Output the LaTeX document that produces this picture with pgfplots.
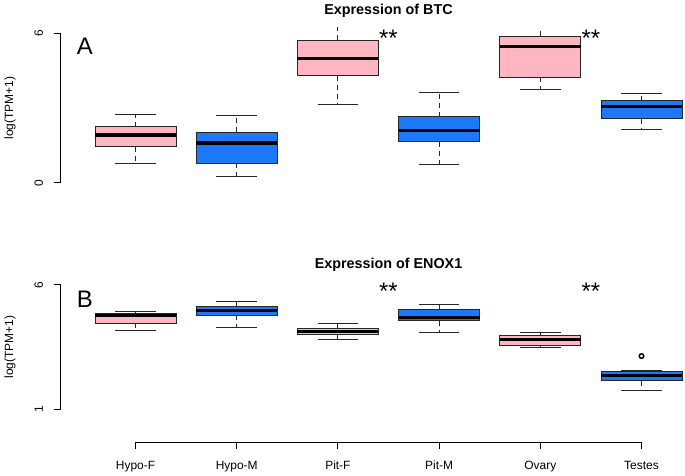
\documentclass[border=0pt]{standalone}
\usepackage{pgfplots}
\pgfplotsset{compat=1.18}
\usepgfplotslibrary{statistics}
\usepackage{fontspec}
\setmainfont{Liberation Sans}

\definecolor{pinkc}{RGB}{255,182,193}
\definecolor{bluec}{RGB}{30,120,250}

\pgfplotsset{
  rbox/.style={
    boxplot/draw direction=y,
    boxplot/box extend=0.8,
    boxplot/whisker extend=0.4,
    boxplot/every box/.style={draw=black!85, line width=0.9bp},
    boxplot/every whisker/.style={draw=black!85, line width=0.9bp},
    boxplot/every median/.style={draw=black, line width=3.2bp},
    boxplot/draw/lower whisker/.code={%
      \draw[/pgfplots/boxplot/every whisker/.try, dash pattern=on 5bp off 4bp]
        (boxplot box cs:\pgfplotsboxplotvalue{lower quartile},0.5) --
        (boxplot box cs:\pgfplotsboxplotvalue{lower whisker},0.5);
      \draw[/pgfplots/boxplot/every whisker/.try]
        (boxplot whisker cs:\pgfplotsboxplotvalue{lower whisker},0) --
        (boxplot whisker cs:\pgfplotsboxplotvalue{lower whisker},1);
    },
    boxplot/draw/upper whisker/.code={%
      \draw[/pgfplots/boxplot/every whisker/.try, dash pattern=on 5bp off 4bp]
        (boxplot box cs:\pgfplotsboxplotvalue{upper quartile},0.5) --
        (boxplot box cs:\pgfplotsboxplotvalue{upper whisker},0.5);
      \draw[/pgfplots/boxplot/every whisker/.try]
        (boxplot whisker cs:\pgfplotsboxplotvalue{upper whisker},0) --
        (boxplot whisker cs:\pgfplotsboxplotvalue{upper whisker},1);
    },
  },
  pinkbox/.style={rbox, boxplot/every box/.append style={fill=pinkc}},
  bluebox/.style={rbox, boxplot/every box/.append style={fill=bluec}},
  panel/.style={
    scale only axis, width=655.78bp, anchor=south west,
    xmin=-0.74, xmax=5.74, axis lines=none, xtick=\empty, ytick=\empty,
    clip mode=individual,
  },
}

\begin{document}
\begin{tikzpicture}
\path[use as bounding box] (0,0) rectangle (685bp,476bp);

% ---------------- Panel A: BTC ----------------
\begin{axis}[panel, height=161.1bp, at={(60.61bp,287.33bp)}, ymin=-0.24, ymax=6.24]
\addplot[pinkbox, boxplot prepared={draw position=0, lower whisker=0.79, lower quartile=1.45, median=1.92, upper quartile=2.26, upper whisker=2.74}] coordinates {};
\addplot[bluebox, boxplot prepared={draw position=1, lower whisker=0.24, lower quartile=0.78, median=1.60, upper quartile=2.03, upper whisker=2.69}] coordinates {};
\addplot[pinkbox, boxplot prepared={draw position=2, lower whisker=3.13, lower quartile=4.30, median=4.98, upper quartile=5.72, upper whisker=6.60}] coordinates {};
\addplot[bluebox, boxplot prepared={draw position=3, lower whisker=0.74, lower quartile=1.64, median=2.11, upper quartile=2.66, upper whisker=3.64}] coordinates {};
\addplot[pinkbox, boxplot prepared={draw position=4, lower whisker=3.77, lower quartile=4.24, median=5.49, upper quartile=5.89, upper whisker=6.40}] coordinates {};
\addplot[bluebox, boxplot prepared={draw position=5, lower whisker=2.16, lower quartile=2.57, median=3.07, upper quartile=3.29, upper whisker=3.58}] coordinates {};
% y axis
\draw[line width=0.9bp] (axis cs:-0.74,0) -- (axis cs:-0.74,6);
\draw[line width=0.9bp] (axis cs:-0.74,0) -- ++(-6.7bp,0bp);
\draw[line width=0.9bp] (axis cs:-0.74,6) -- ++(-6.7bp,0bp);
\node[rotate=90, font=\fontsize{12}{12}\selectfont] at (axis cs:-0.955,0) {0};
\node[rotate=90, font=\fontsize{12}{12}\selectfont] at (axis cs:-0.955,6) {6};
\node[rotate=90, font=\fontsize{12}{12}\selectfont] at (axis cs:-1.24,3) {log(TPM+1)};
\node[anchor=base, font=\bfseries\fontsize{14.4}{14.4}\selectfont] at (axis cs:2.5,6.746) {Expression of BTC};
\node[anchor=base, font=\fontsize{24}{24}\selectfont] at (axis cs:-0.5,5.165) {A};
\node[anchor=base, font=\fontsize{24}{24}\selectfont] at (axis cs:2.5,5.47) {**};
\node[anchor=base, font=\fontsize{24}{24}\selectfont] at (axis cs:4.5,5.47) {**};
\end{axis}

% ---------------- Panel B: ENOX1 ----------------
\begin{axis}[panel, height=134.3bp, at={(60.61bp,61.73bp)}, ymin=0.8, ymax=6.2]
\addplot[pinkbox, boxplot prepared={draw position=0, lower whisker=4.19, lower quartile=4.46, median=4.77, upper quartile=4.84, upper whisker=4.92}] coordinates {};
\addplot[bluebox, boxplot prepared={draw position=1, lower whisker=4.28, lower quartile=4.79, median=4.98, upper quartile=5.15, upper whisker=5.34}] coordinates {};
\addplot[pinkbox, boxplot prepared={draw position=2, lower whisker=3.81, lower quartile=4.01, median=4.14, upper quartile=4.25, upper whisker=4.47}] coordinates {};
\addplot[bluebox, boxplot prepared={draw position=3, lower whisker=4.07, lower quartile=4.56, median=4.68, upper quartile=5.00, upper whisker=5.23}] coordinates {};
\addplot[pinkbox, boxplot prepared={draw position=4, lower whisker=3.48, lower quartile=3.56, median=3.80, upper quartile=3.96, upper whisker=4.07}] coordinates {};
\addplot[bluebox, mark=o, mark size=2.3bp, mark options={line width=1.5bp, draw=black}, boxplot prepared={draw position=5, lower whisker=1.75, lower quartile=2.15, median=2.37, upper quartile=2.53, upper whisker=2.58}] coordinates {(5,3.14)};
% y axis
\draw[line width=0.9bp] (axis cs:-0.74,1) -- (axis cs:-0.74,6);
\draw[line width=0.9bp] (axis cs:-0.74,1) -- ++(-6.7bp,0bp);
\draw[line width=0.9bp] (axis cs:-0.74,6) -- ++(-6.7bp,0bp);
\node[rotate=90, font=\fontsize{12}{12}\selectfont] at (axis cs:-0.955,1) {1};
\node[rotate=90, font=\fontsize{12}{12}\selectfont] at (axis cs:-0.955,6) {6};
\node[rotate=90, font=\fontsize{12}{12}\selectfont] at (axis cs:-1.24,3.5) {log(TPM+1)};
\node[anchor=base, font=\bfseries\fontsize{14.4}{14.4}\selectfont] at (axis cs:2.5,6.664) {Expression of ENOX1};
\node[anchor=base, font=\fontsize{24}{24}\selectfont] at (axis cs:-0.5,5.10) {B};
\node[anchor=base, font=\fontsize{24}{24}\selectfont] at (axis cs:2.5,5.40) {**};
\node[anchor=base, font=\fontsize{24}{24}\selectfont] at (axis cs:4.5,5.40) {**};
% x axis
\draw[line width=0.9bp] (axis cs:0,-0.343) -- (axis cs:5,-0.343);
\draw[line width=0.9bp] (axis cs:0,-0.343) -- ++(0bp,-6.6bp);
\draw[line width=0.9bp] (axis cs:1,-0.343) -- ++(0bp,-6.6bp);
\draw[line width=0.9bp] (axis cs:2,-0.343) -- ++(0bp,-6.6bp);
\draw[line width=0.9bp] (axis cs:3,-0.343) -- ++(0bp,-6.6bp);
\draw[line width=0.9bp] (axis cs:4,-0.343) -- ++(0bp,-6.6bp);
\draw[line width=0.9bp] (axis cs:5,-0.343) -- ++(0bp,-6.6bp);
\node[anchor=base, font=\fontsize{12}{12}\selectfont] at (axis cs:0,-1.413) {Hypo-F};
\node[anchor=base, font=\fontsize{12}{12}\selectfont] at (axis cs:1,-1.413) {Hypo-M};
\node[anchor=base, font=\fontsize{12}{12}\selectfont] at (axis cs:2,-1.413) {Pit-F};
\node[anchor=base, font=\fontsize{12}{12}\selectfont] at (axis cs:3,-1.413) {Pit-M};
\node[anchor=base, font=\fontsize{12}{12}\selectfont] at (axis cs:4,-1.413) {Ovary};
\node[anchor=base, font=\fontsize{12}{12}\selectfont] at (axis cs:5,-1.413) {Testes};
\end{axis}
\end{tikzpicture}
\end{document}
